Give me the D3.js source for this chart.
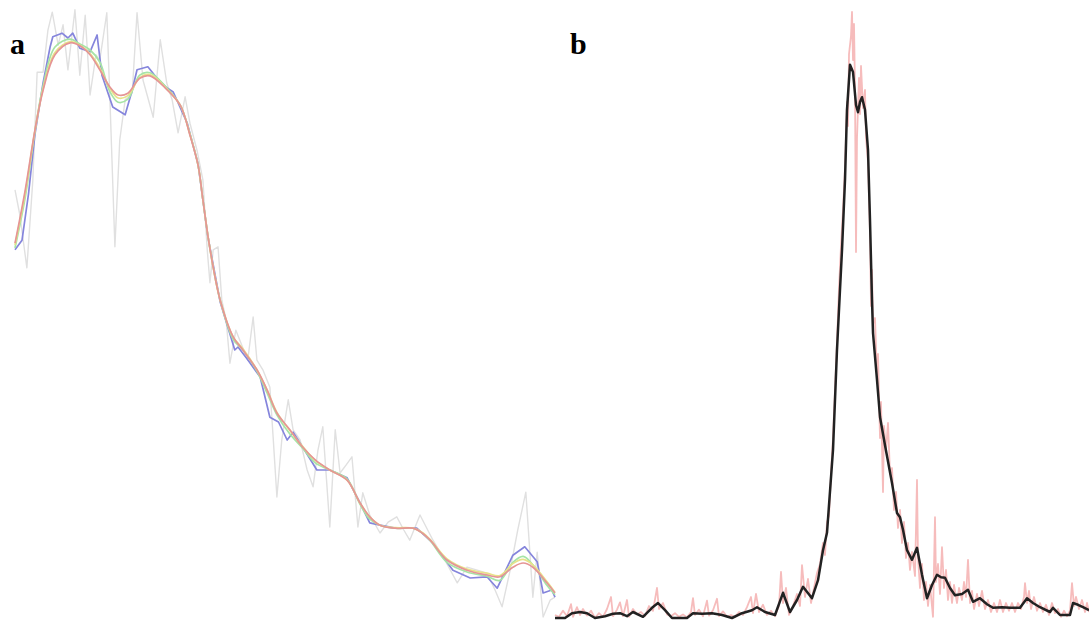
<!DOCTYPE html>
<html><head><meta charset="utf-8">
<script src="https://cdn.jsdelivr.net/npm/d3@7"></script>
<style>html,body{margin:0;padding:0;background:#fff;}svg{display:block;}</style>
</head><body>
<svg id="chart" width="1089" height="621"></svg>
<script>
// ---------- Panel a data (x: 0-100, y: 0-100) ----------
const panelALabel = "a";
const rawA = [[0,71.7],[0.9,67.5],[2.2,58.7],[3.3,73.3],[4.1,91.3],[5.2,91.3],[6.1,98.3],[6.9,101.3],[8.0,95.8],[8.9,99.2],[9.8,91.7],[11.1,101.7],[12.0,90.8],[13.0,100.8],[13.9,87.5],[15.0,94.2],[15.7,93.3],[17.0,101.2],[17.6,86.2],[18.5,62.2],[19.4,80],[20.4,86.7],[21.7,87.8],[22.6,101.2],[23.7,90],[25.6,83.8],[26.9,96.7],[28.1,89.5],[29.1,86.7],[30.2,81.2],[31.5,87.2],[32.4,82.8],[33.7,78.3],[34.8,73.3],[35.6,61.7],[36.1,56.2],[36.7,61.7],[37.6,62.2],[38.3,53.3],[39.1,50],[39.8,42.8],[40.9,48.3],[42.0,45.8],[43.1,43.3],[44.1,50.5],[44.8,43.3],[45.9,41.7],[47.2,38.8],[47.8,30.5],[48.5,20.5],[49.4,30],[50.6,36.7],[51.5,31.7],[52.8,30],[54.1,25],[55.2,22.2],[56.1,28.3],[57.0,32.2],[58.3,15.5],[59.3,31.7],[60.2,24.5],[61.3,25.8],[62.4,27.2],[63.5,15.5],[64.4,21.2],[65.7,17.5],[67.6,14.5],[69.1,16.3],[70.7,17.2],[72.0,15],[73.1,13.3],[75.0,17.5],[77.4,13.3],[79.6,10],[81.9,6.2],[83.7,8.8],[85.6,8.3],[87.4,7.8],[88.9,5],[90.2,2.2],[91.7,8.3],[93.1,15],[94.6,21.3],[95.9,3.8],[96.7,11.3],[97.8,0.5],[99.1,3.3],[100,3.8]];
const blueA = [[0,61.7],[1.3,63.3],[2.5,71],[3.7,81],[5.2,89.5],[6.5,95.5],[7.0,97.2],[8.7,97.8],[9.8,97],[10.7,97.8],[12,95.3],[13.9,94.7],[15.2,97.5],[16.1,90.8],[18.1,85.5],[20.4,84.2],[21.7,88.3],[22.6,91.7],[24.6,92.2],[26.3,90.3],[28.1,88.7],[29.3,88],[31.9,82.8],[33.9,76],[35.7,64],[38,53],[40.7,45],[41.3,45.5],[43,43.5],[45.4,40.5],[47.2,33.8],[48.8,33],[50.4,30],[51.5,31.3],[53.5,28.5],[55.9,25],[58.3,25],[61.5,23.7],[63.9,19.5],[65.7,16.2],[67.6,15.8],[70.4,15.3],[74.4,15.3],[77.4,12.8],[81.1,8.3],[84.3,7],[87.4,7.2],[89.3,5.3],[92.2,10.8],[94.4,12.2],[96.7,9.7],[97.8,4.5],[99.4,5],[100,3.8]];
const greenA = [[0,62],[1.9,70.5],[3.7,81.5],[5.2,89],[7.4,95.5],[10.2,96.8],[12,96],[13.9,95],[15.7,93],[17.6,88],[19.1,86.3],[20.9,86.8],[23.1,90.8],[25,91.2],[27.8,89],[30.6,85.8],[32.4,81],[33.9,75.8],[34.8,70],[35.7,64.2],[36.7,58.8],[38,53.3],[40.4,46.8],[42.2,45],[44.8,41.5],[46.7,37.8],[48.5,34.2],[50.9,31],[53.3,28.6],[55.6,26.2],[58.3,25],[61.5,23.5],[63.9,19.3],[65.7,16.8],[67.6,15.8],[70.4,15.3],[73.7,15.3],[75.4,14.5],[76.9,13.2],[80,9.6],[83.7,8],[87.4,7.3],[89.8,6.6],[92.2,9.6],[94.1,10.6],[95.9,9.2],[98.5,5.8],[100,4.2]];
const yellowA = [[0,62.5],[1.9,71.2],[3.7,81.6],[5.2,88.5],[7.4,94.6],[10.2,96.4],[12,95.8],[13.9,94.4],[15.7,92],[17.6,88.6],[19.1,87],[20.9,87.4],[23.1,90.4],[25,90.9],[27.8,88.8],[30.6,85.8],[32.4,80.9],[33.9,75.8],[34.8,70],[35.7,64.2],[36.7,58.8],[38,53.3],[40.4,47.2],[42.2,45.2],[44.8,41.7],[46.7,38.3],[48.5,34.6],[50.9,31.6],[53.3,28.9],[55.6,26.6],[58.3,25],[61.5,23.3],[63.9,19.5],[65.7,17.2],[67.6,15.8],[70.4,15.4],[73.7,15.3],[75.4,14.6],[76.9,13.4],[80,10.2],[83.7,8.5],[87.4,7.8],[89.8,7.4],[92.2,9.4],[94.1,10.1],[95.9,9.2],[98.5,6.4],[100,4.6]];
const redA = [[0,62.8],[1.9,71.7],[3.7,81.7],[5.2,88.3],[7.4,94.2],[10.2,96.2],[12,95.7],[13.9,94.2],[15.7,91.7],[17.6,88.8],[19.1,87.5],[20.9,87.8],[23.1,90.3],[25,90.7],[27.8,88.7],[30.6,85.8],[32.4,80.8],[33.9,75.8],[34.8,70],[35.7,64.2],[36.7,58.8],[38,53.3],[40.4,47.2],[42.2,45],[44.8,41.7],[46.7,38.3],[48.5,34.5],[50.9,31.7],[53.3,28.8],[55.6,26.7],[58.3,25],[61.5,23.3],[63.9,19.5],[65.7,17.2],[67.6,15.8],[70.4,15.3],[73.7,15.3],[75.4,14.5],[76.9,13.3],[80,10],[83.7,8.3],[87.4,7.5],[89.8,7.2],[92.2,8.8],[94.1,9.5],[95.9,8.8],[98.5,6.2],[100,4.5]];

// ---------- Panel b data (x: 0-267, y: 0-100) ----------
const panelBLabel = "b";
const smoothB = [[0,0],[5,0],[8.5,0.8],[12.5,1.0],[16,0.8],[20,0],[25,0.3],[29,0.7],[32.5,0.8],[36,0.3],[39,1.0],[44,0.2],[48.5,1.7],[51.5,2.5],[55,1.3],[58.5,0],[66,0],[69,0.8],[73.5,0.7],[78.5,0.8],[83.5,0.5],[88.5,0],[93.5,0.8],[98.5,1.3],[101,1.8],[105,1.0],[110,0.5],[114,4.2],[117.5,1.0],[121,3.0],[124,5.2],[128.5,3.3],[131.5,6.3],[134,11.3],[136,14.2],[139,28],[141,44.7],[142.5,54.7],[143.5,61.3],[145,73],[146,84.7],[147.5,92.2],[149,91],[150.5,85.5],[151.5,84.3],[152.5,86],[153.5,86.8],[155,84.7],[156.5,78],[157.5,66.3],[158.5,53],[159,47.5],[161,39.7],[162.5,33.5],[165,28.8],[168.5,22.5],[171,17.5],[172.5,16.8],[174,14.7],[176,11.3],[178.5,9.7],[181,11.7],[183.5,7.2],[186,3.3],[188.5,5.5],[191,7.2],[193,6.8],[195,6.7],[197.5,5.0],[200,3.8],[203.5,4.0],[206.5,4.7],[209,2.7],[212.5,3.3],[216,2.3],[219,1.7],[223.5,1.8],[227.5,1.7],[232.5,1.7],[236,3.3],[239,2.5],[242.5,1.8],[247.5,1.0],[249,1.7],[252.5,0.5],[257.5,0.5],[259,2.5],[261.5,2.2],[264,1.8],[267,1.3]];
const rawB = [[0,0.5],[2,0.2],[4,1.2],[6,0.3],[8,2.3],[9,0.2],[11,1.8],[12.5,0.5],[14,1.5],[16,0.4],[18,1.2],[20,0],[22,0.8],[24,0.2],[26,1.5],[28,3.5],[29,0.3],[31,1.4],[32.5,2.6],[34,0.3],[36,3.0],[37,0.2],[39,1.5],[41,0.6],[43,1.0],[45,0.3],[47,2.0],[49,1.2],[51,5.0],[52,1.5],[54,2.5],[56,0.6],[58,0.3],[60,0.8],[62,0.2],[64,0.6],[66,0.1],[68,1.0],[69,3.3],[70,0.5],[72,1.4],[74,0.3],[76,2.9],[77,0.4],[79,1.3],[81,3.2],[82,0.3],[84,1.1],[86,0.2],[88,0.5],[90,0.2],[92,1.0],[94,0.5],[96,1.8],[98,3.5],[99,0.8],[100.5,4.0],[102,1.0],[104,2.2],[106,0.5],[108,1.2],[110,0.3],[112,2.0],[113,7.7],[114,2.5],[115.5,5.0],[117,0.5],[119,2.0],[121,4.0],[122.5,2.0],[123.5,8.8],[125,3.5],[126.5,6.5],[128,2.5],[129.5,5.0],[131,7.5],[132.5,9.0],[134,12.5],[135,10.5],[136,16],[137,17],[138,24],[139,30],[140,38],[141,46],[142,55],[143,62],[144,68],[145,75],[146,86],[146.5,82],[147,94],[148,97],[148.5,101],[149,93],[149.5,99],[150,88],[150.5,61],[151,80],[152,90],[152.5,84],[153,92],[154,85],[155,88],[155.5,80],[156.5,76],[157.5,64],[158,52],[158.5,58],[159,49],[160,50],[161,40],[161.5,44],[162.5,30],[163,36],[164,21],[164.5,32],[165.5,28],[166.5,32.5],[167.5,24],[168.5,25],[169.5,18],[170.5,21],[171.5,15],[172.5,18],[173.5,12.5],[174.5,16],[175.5,10],[176.5,12.5],[177.5,8],[178.5,11],[180,7],[181,23],[181.5,10],[182.5,5],[183.5,9],[184.5,3],[185.5,6],[186.5,2],[187.5,5.5],[189,0.2],[190,16.8],[190.5,6],[191.5,9],[192.5,4],[193.5,11.8],[194.5,5],[195.5,8],[196.5,3],[197.5,6],[198.5,2.5],[199.5,5.5],[201,2.5],[202,5],[203.5,3],[204.5,6],[205.5,3.5],[206.5,9.7],[207.5,2.5],[208.5,4.5],[209.5,1.5],[211,4],[212,2],[213.5,4.5],[215,1.5],[216.5,3],[218,1],[219.5,2.5],[221,1],[222.5,3],[224,1],[225.5,2.5],[227,1.2],[228.5,2.5],[230,1],[231.5,2.5],[233,1.5],[234.5,3.5],[235,5.8],[236,2.5],[237,4.5],[238,1.5],[239.5,3.5],[241,1.2],[242.5,2.5],[244,1],[245.5,2.2],[247,0.5],[248.5,2.5],[250,0.8],[251.5,1.5],[253,0.2],[254.5,1.2],[256,0.3],[257.5,1.2],[258.5,5.8],[259.5,2],[260.5,3.5],[262,1.5],[263.5,3],[265,1],[266,2.5],[267,1]];

const svg = d3.select("#chart");

// Panel a
const xA = d3.scaleLinear().domain([0,100]).range([15,555]);
const yA = d3.scaleLinear().domain([0,100]).range([620,20]);
const lineA = d3.line().x(d=>xA(d[0])).y(d=>yA(d[1]));
const lineAsmooth = d3.line().x(d=>xA(d[0])).y(d=>yA(d[1])).curve(d3.curveCatmullRom.alpha(0.5));
const gA = svg.append("g").attr("stroke-linejoin","round").attr("fill","none");
gA.append("path").attr("d", lineA(rawA)).attr("stroke","#e0e0e0").attr("stroke-width",1.4);
gA.append("path").attr("d", lineA(blueA)).attr("stroke","#8585dc").attr("stroke-width",1.7);
gA.append("path").attr("d", lineAsmooth(greenA)).attr("stroke","#a6e4a6").attr("stroke-width",1.7);
gA.append("path").attr("d", lineAsmooth(yellowA)).attr("stroke","#e8e28a").attr("stroke-width",1.7);
gA.append("path").attr("d", lineAsmooth(redA)).attr("stroke","#e59595").attr("stroke-width",1.7);

// Panel b
const xB = d3.scaleLinear().domain([0,267]).range([555,1089]);
const yB = d3.scaleLinear().domain([0,100]).range([618,18]);
const lineB = d3.line().x(d=>xB(d[0])).y(d=>yB(d[1]));
const gB = svg.append("g").attr("fill","none").attr("stroke-linejoin","round");
gB.append("path").attr("d", lineB(rawB)).attr("stroke","#f2a0a0").attr("stroke-width",1.8).attr("stroke-opacity",0.7);
gB.append("path").attr("d", lineB(smoothB)).attr("stroke","#222").attr("stroke-width",2.5);

// Labels
svg.append("text").attr("x",10).attr("y",54).text(panelALabel)
  .attr("font-family","'Liberation Serif','Times New Roman',serif").attr("font-weight","bold").attr("font-size",30);
svg.append("text").attr("x",570).attr("y",54).text(panelBLabel)
  .attr("font-family","'Liberation Serif','Times New Roman',serif").attr("font-weight","bold").attr("font-size",30);
</script>
</body></html>
